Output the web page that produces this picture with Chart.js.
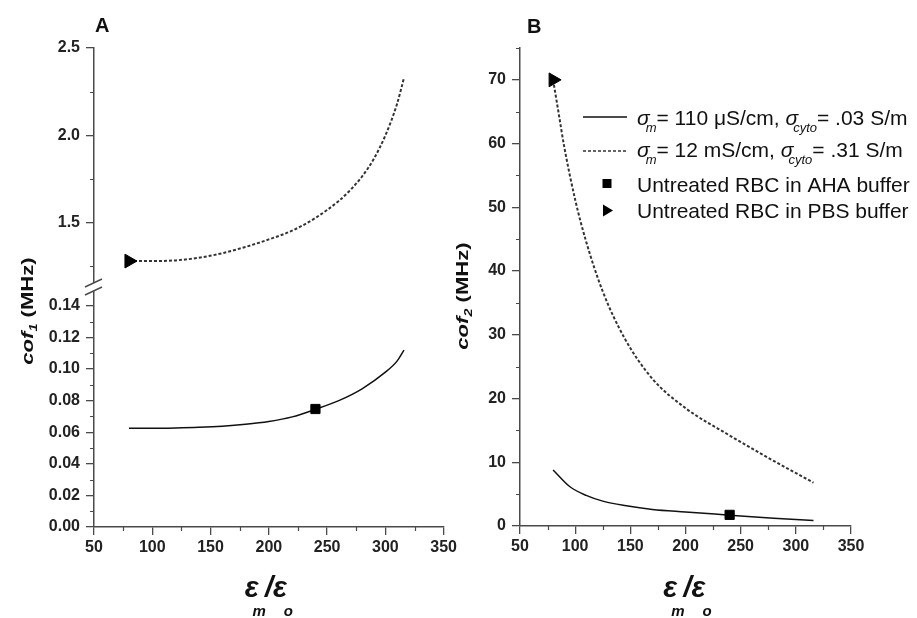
<!DOCTYPE html>
<html><head><meta charset="utf-8">
<script src="https://cdn.jsdelivr.net/npm/chart.js@4.4.1/dist/chart.umd.min.js"></script>
<style>
html,body{margin:0;padding:0;background:#fff;}
#wrap{position:relative;width:917px;height:618px;overflow:hidden;background:#fff;}
#cA{position:absolute;left:0;top:0;}
#cB{position:absolute;left:440px;top:0;}
</style></head><body>
<div id="wrap">
<canvas id="cA" width="460" height="618" style="width:460px;height:618px"></canvas>
<canvas id="cB" width="477" height="618" style="width:477px;height:618px"></canvas>
</div>
<script>
// ---------- data ----------
const xTicks = [50, 100, 150, 200, 250, 300, 350];
const xMinor = [75, 125, 175, 225, 275, 325];
const yTopTicksA = [1.5, 2.0, 2.5];
const yTopMinorA = [1.25, 1.75, 2.25];
const yBotTicksA = [0, 0.02, 0.04, 0.06, 0.08, 0.10, 0.12, 0.14];
const yBotMinorA = [0.01, 0.03, 0.05, 0.07, 0.09, 0.11, 0.13];
const yTicksB = [0, 10, 20, 30, 40, 50, 60, 70];
const yMinorB = [5, 15, 25, 35, 45, 55, 65, 75];

// panel A: cof1 (MHz)
const aSolidX = [80, 100, 120, 140, 160, 180, 200, 220, 240, 260, 280, 300, 310, 316];
const aSolidY = [0.0625, 0.0625, 0.0627, 0.0631, 0.0638, 0.0650, 0.0668, 0.0697, 0.0745, 0.0800, 0.0875, 0.0980, 0.1050, 0.1120];
const aDashX = [80, 100, 120, 140, 160, 180, 200, 220, 240, 260, 270, 280, 290, 300, 310, 316];
const aDashY = [1.281, 1.281, 1.285, 1.300, 1.326, 1.362, 1.405, 1.455, 1.528, 1.625, 1.688, 1.765, 1.865, 2.000, 2.180, 2.330];
// panel B: cof2 (MHz)
const bSolidX = [80, 95, 110, 125, 145, 170, 200, 240, 280, 316];
const bSolidY = [8.8, 6.2, 4.8, 3.9, 3.2, 2.6, 2.2, 1.7, 1.2, 0.85];
const bDashX = [80, 85, 90, 100, 110, 125, 145, 170, 200, 240, 277, 316];
const bDashY = [70.0, 64.8, 59.6, 51.2, 44.6, 36.8, 29.4, 23.1, 18.5, 14.2, 10.5, 6.8];
// measured points
const ahaX = [240], ahaA = [0.0747], ahaB = [1.75];
const pbsX = [80], pbsA = [1.281], pbsB = [70];

const seriesNames = ['σm= 110 μS/cm, σcyto= .03 S/m', 'σm= 12 mS/cm, σcyto= .31 S/m',
  'Untreated RBC in AHA buffer', 'Untreated RBC in PBS buffer'];

// ---------- helpers ----------
const FF = "'Liberation Sans', Arial, sans-serif";
const pts = (xs, ys) => xs.map((x, i) => ({x: x, y: ys[i]}));
const tickFont = {family: FF, size: 16, weight: 'bold'};
const AX = '#4a4a4a';

function lineDS(label, data, axis, dashed) {
  return {label, data, yAxisID: axis, showLine: true, order: 1,
    borderColor: dashed ? '#333' : '#111', borderWidth: dashed ? 2 : 1.5,
    borderDash: dashed ? [3, 2] : [], pointRadius: 0,
    cubicInterpolationMode: 'monotone', fill: false};
}
function markDS(label, data, axis, style) {
  return {label, data, yAxisID: axis, showLine: false, order: 0,
    pointStyle: style, pointRadius: style === 'rect' ? 6.5 : 8,
    pointRotation: style === 'triangle' ? 90 : 0,
    pointBackgroundColor: '#000', pointBorderColor: '#000', pointBorderWidth: 1};
}
function xScale(h) {
  return {type: 'linear', position: 'bottom', min: 50, max: 350,
    afterBuildTicks: s => { s.ticks = xTicks.map(v => ({value: v})); },
    afterFit: s => { s.height = h; },
    ticks: {font: tickFont, color: '#222', padding: 3, maxRotation: 0, autoSkip: false, callback: v => String(v)},
    grid: {drawOnChartArea: false, drawTicks: true, tickLength: 8, color: AX, lineWidth: 1.3},
    border: {display: true, color: AX, width: 1.5}};
}
function yScale(min, max, ticks, fmt, w, extra) {
  return Object.assign({type: 'linear', position: 'left', min, max,
    afterBuildTicks: s => { s.ticks = ticks.map(v => ({value: v})); },
    afterFit: s => { s.width = w; },
    ticks: {font: tickFont, color: '#222', padding: 6, autoSkip: false, callback: fmt},
    grid: {drawOnChartArea: false, drawTicks: true, tickLength: 8, color: AX, lineWidth: 1.3},
    border: {display: true, color: AX, width: 1.5}}, extra || {});
}
function drawMinor(chart, id, vals, len) {
  const s = chart.scales[id], ctx = chart.ctx;
  ctx.save(); ctx.strokeStyle = AX; ctx.lineWidth = 1.2; ctx.beginPath();
  vals.forEach(v => {
    const p = Math.round(s.getPixelForValue(v)) + 0.5;
    if (s.isHorizontal()) { ctx.moveTo(p, s.top); ctx.lineTo(p, s.top + len); }
    else { ctx.moveTo(s.right, p); ctx.lineTo(s.right - len, p); }
  });
  ctx.stroke(); ctx.restore();
}
function drawRich(ctx, x, y, segs) {
  segs.forEach(sg => {
    ctx.font = sg.f;
    const dx = sg.dx || 0;
    ctx.fillText(sg.t, x + dx, y + (sg.dy || 0));
    x += dx + ctx.measureText(sg.t).width;
  });
  return x;
}
function richWidth(ctx, segs) {
  let w = 0;
  segs.forEach(sg => { ctx.font = sg.f; w += (sg.dx || 0) + ctx.measureText(sg.t).width; });
  return w;
}
function yTitle(ctx, cx, cy, sub) {
  const segs = [
    {t: 'cof', f: 'italic bold 17px ' + FF},
    {t: sub, f: 'italic bold 11px ' + FF, dy: 4},
    {t: ' (MHz)', f: 'bold 17px ' + FF}];
  ctx.save();
  ctx.translate(cx, cy); ctx.rotate(-Math.PI / 2); ctx.scale(1.3, 1);
  ctx.fillStyle = '#111'; ctx.textBaseline = 'alphabetic'; ctx.textAlign = 'left';
  const w = richWidth(ctx, segs);
  drawRich(ctx, -w / 2, 6, segs);
  ctx.restore();
}
function xTitle(ctx, cx, base) {
  const segs = [
    {t: 'ε', f: 'italic bold 29px ' + FF},
    {t: 'm', f: 'italic bold 15px ' + FF, dy: 19, dx: -6},
    {t: '/', f: 'italic bold 29px ' + FF, dx: -1},
    {t: 'ε', f: 'italic bold 29px ' + FF, dx: 0},
    {t: 'o', f: 'italic bold 15px ' + FF, dy: 19, dx: -3}];
  ctx.save(); ctx.fillStyle = '#111'; ctx.textAlign = 'left'; ctx.textBaseline = 'alphabetic';
  const w = richWidth(ctx, segs);
  drawRich(ctx, cx - w / 2, base, segs);
  ctx.restore();
}

const common = {responsive: false, animation: false, events: [],
  plugins: {legend: {display: false}, tooltip: {enabled: false}}};

// ---------- Panel A ----------
const BREAK_Y = 288;
const plugA = {id: 'decoA', afterDraw(chart) {
  const ctx = chart.ctx, ca = chart.chartArea;
  drawMinor(chart, 'x', xMinor, 4);
  drawMinor(chart, 'yTop', yTopMinorA, 4);
  drawMinor(chart, 'yBot', yBotMinorA, 4);
  // axis break
  const ax = ca.left;
  ctx.save();
  ctx.fillStyle = '#fff'; ctx.fillRect(ax - 2, BREAK_Y - 5, 4, 8);
  ctx.strokeStyle = AX; ctx.lineWidth = 1.4; ctx.beginPath();
  ctx.moveTo(ax - 9, BREAK_Y - 1); ctx.lineTo(ax + 8, BREAK_Y - 9);
  ctx.moveTo(ax - 9, BREAK_Y + 7); ctx.lineTo(ax + 8, BREAK_Y - 1);
  ctx.stroke();
  // panel letter
  ctx.fillStyle = '#111'; ctx.font = 'bold 20px ' + FF; ctx.textAlign = 'left'; ctx.textBaseline = 'alphabetic';
  ctx.fillText('A', 95, 32);
  ctx.restore();
  yTitle(ctx, 27, 311, '1');
  xTitle(ctx, (ca.left + ca.right) / 2, 597);
}};
new Chart(document.getElementById('cA'), {
  type: 'scatter',
  data: {datasets: [
    markDS(seriesNames[2], pts(ahaX, ahaA), 'yBot', 'rect'),
    markDS(seriesNames[3], pts(pbsX, pbsA), 'yTop', 'triangle'),
    lineDS(seriesNames[0], pts(aSolidX, aSolidY), 'yBot', false),
    lineDS(seriesNames[1], pts(aDashX, aDashY), 'yTop', true)]},
  options: Object.assign({}, common, {
    layout: {padding: {left: 0, top: 48, right: 16, bottom: 0}},
    scales: {
      x: xScale(91),
      yBot: yScale(0, 0.1513, yBotTicksA, v => v.toFixed(2), 94, {stack: 'A', stackWeight: 239}),
      yTop: yScale(1.127, 2.5, yTopTicksA, v => v.toFixed(1), 94, {stack: 'A', stackWeight: 240})
    }}),
  plugins: [plugA]
});

// ---------- Panel B ----------
const plugB = {id: 'decoB', afterDraw(chart) {
  const ctx = chart.ctx, ca = chart.chartArea;
  drawMinor(chart, 'x', xMinor, 4);
  drawMinor(chart, 'y', yMinorB, 4);
  ctx.save();
  ctx.fillStyle = '#111'; ctx.font = 'bold 20px ' + FF; ctx.textAlign = 'left'; ctx.textBaseline = 'alphabetic';
  ctx.fillText('B', 87, 33);
  // legend
  const lx0 = 143, lx1 = 187, tx = 197, mx = 167;
  ctx.strokeStyle = '#111'; ctx.lineWidth = 1.4; ctx.setLineDash([]);
  ctx.beginPath(); ctx.moveTo(lx0, 117); ctx.lineTo(lx1, 117); ctx.stroke();
  ctx.strokeStyle = '#333'; ctx.lineWidth = 1.3; ctx.setLineDash([3, 2]);
  ctx.beginPath(); ctx.moveTo(lx0, 151); ctx.lineTo(lx1, 151); ctx.stroke();
  ctx.setLineDash([]);
  ctx.fillStyle = '#000';
  ctx.fillRect(mx - 4.5, 183.5 - 4.5, 9, 9);
  ctx.beginPath(); ctx.moveTo(mx + 6, 210.5); ctx.lineTo(mx - 4, 204.5); ctx.lineTo(mx - 4, 216.5); ctx.closePath(); ctx.fill();
  ctx.fillStyle = '#111';
  const nf = '21px ' + FF, sf = 'italic 21px ' + FF, subf = 'italic 13px ' + FF;
  drawRich(ctx, tx, 125, [
    {t: 'σ', f: sf}, {t: 'm', f: subf, dy: 7, dx: -4}, {t: '= 110 μS/cm, ', f: nf},
    {t: 'σ', f: sf}, {t: 'cyto', f: subf, dy: 7, dx: -5}, {t: '= .03 S/m', f: nf}]);
  drawRich(ctx, tx, 157, [
    {t: 'σ', f: sf}, {t: 'm', f: subf, dy: 7, dx: -4}, {t: '= 12 mS/cm, ', f: nf},
    {t: 'σ', f: sf}, {t: 'cyto', f: subf, dy: 7, dx: -5}, {t: '= .31 S/m', f: nf}]);
  ctx.font = nf;
  ctx.fillText(seriesNames[2], tx, 192);
  ctx.fillText(seriesNames[3], tx, 218);
  ctx.restore();
  yTitle(ctx, 22, 296, '2');
  xTitle(ctx, (ca.left + ca.right) / 2 + 2, 597);
}};
new Chart(document.getElementById('cB'), {
  type: 'scatter',
  data: {datasets: [
    markDS(seriesNames[2], pts(ahaX, ahaB), 'y', 'rect'),
    markDS(seriesNames[3], pts(pbsX, pbsB), 'y', 'triangle'),
    lineDS(seriesNames[0], pts(bSolidX, bSolidY), 'y', false),
    lineDS(seriesNames[1], pts(bDashX, bDashY), 'y', true)]},
  options: Object.assign({}, common, {
    layout: {padding: {left: 0, top: 48, right: 66, bottom: 0}},
    scales: {
      x: xScale(92),
      y: yScale(0, 75, yTicksB, v => String(v), 80)
    }}),
  plugins: [plugB]
});
</script>
</body></html>
